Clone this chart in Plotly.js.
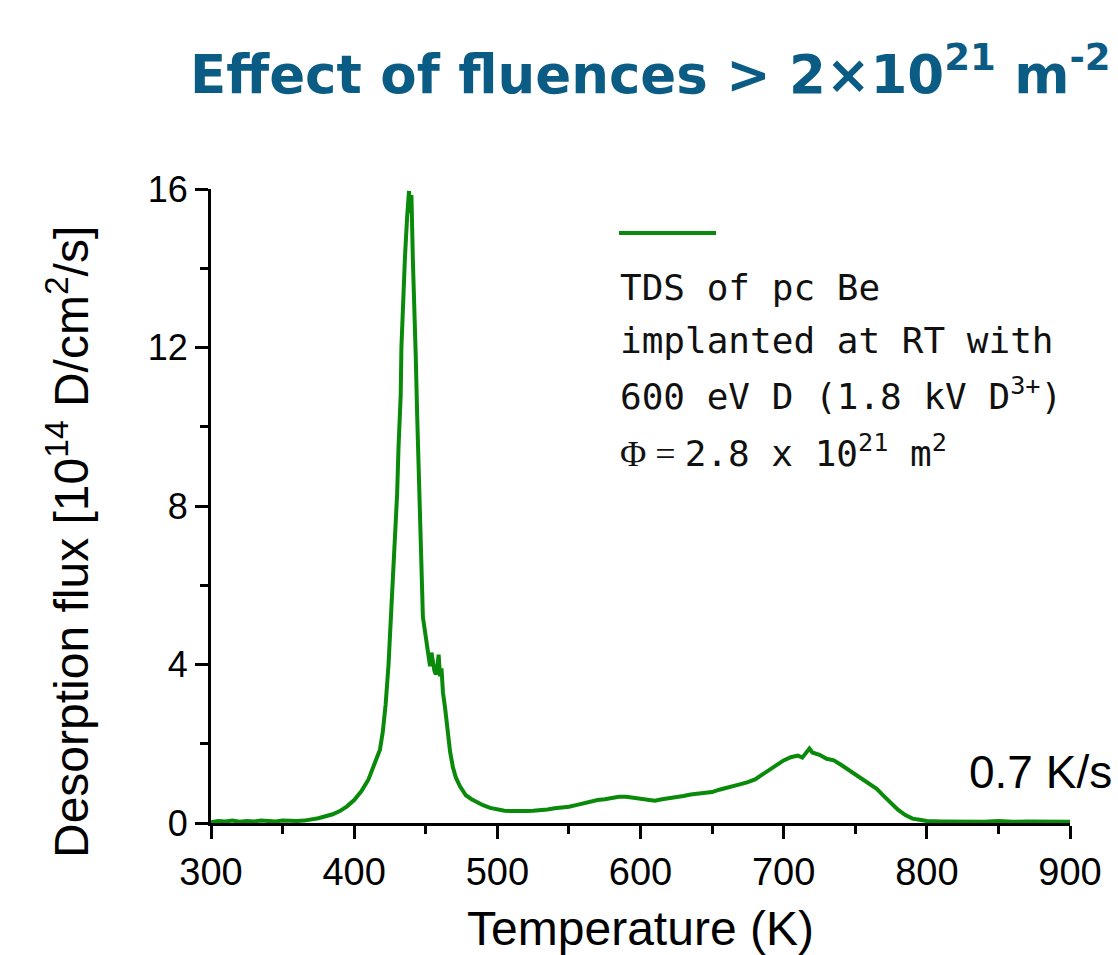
<!DOCTYPE html>
<html>
<head>
<meta charset="utf-8">
<script src="https://cdn.plot.ly/plotly-3.0.1.min.js"></script>
<style>
  html, body { margin: 0; padding: 0; background: #ffffff; }
  #chart { width: 1118px; height: 955px; }
</style>
</head>
<body>
<div id="chart"></div>
<script>
// Temperature (K)
const temperature = [
  300, 305, 310, 315, 320, 325, 330, 335, 340, 345, 350, 355, 360, 365, 370, 375,
  380, 385, 390, 395, 400, 405, 410, 414, 418, 420, 422, 424, 426, 428, 430, 431,
  432.5, 433, 434, 435.5, 437, 438.3, 439, 440, 441, 442, 443, 444, 445, 446, 447,
  448, 450, 452, 453, 454, 455, 456, 457, 458, 459, 460, 461, 462, 463.5, 465, 467,
  469, 471, 474, 478, 482, 486, 490, 495, 500, 505, 510, 515, 520, 525, 530, 535,
  540, 545, 550, 555, 560, 565, 570, 575, 580, 585, 590, 595, 600, 605, 610, 615,
  620, 625, 630, 635, 640, 645, 650, 655, 660, 665, 670, 675, 680, 685, 690, 695,
  700, 705, 710, 713, 716, 718, 720, 725, 730, 735, 740, 745, 750, 755, 760, 765,
  770, 775, 780, 785, 790, 795, 800, 810, 820, 830, 840, 850, 860, 870, 880, 890, 900
];
// Desorption flux (10^14 D/cm^2/s)
const flux = [
  0.02, 0.05, 0.04, 0.06, 0.03, 0.05, 0.04, 0.06, 0.05, 0.04, 0.06, 0.05, 0.05, 0.06, 0.08, 0.12,
  0.17, 0.22, 0.30, 0.42, 0.58, 0.80, 1.10, 1.45, 1.85, 2.30, 3.00, 4.00, 5.40, 7.00, 8.30, 9.50,
  10.8, 12.0, 13.0, 14.3, 15.3, 15.95, 15.4, 15.85, 14.2, 13.2, 11.8, 10.3, 8.9, 7.3, 5.8,
  5.2, 4.7, 4.3, 3.96, 4.3, 4.0, 3.85, 3.75, 3.9, 4.25, 3.7, 3.9, 3.3, 2.9, 2.4, 1.8,
  1.4, 1.15, 0.92, 0.70, 0.60, 0.52, 0.45, 0.38, 0.34, 0.31, 0.30, 0.29, 0.30, 0.31, 0.32, 0.34,
  0.37, 0.38, 0.41, 0.45, 0.50, 0.53, 0.58, 0.60, 0.64, 0.66, 0.66, 0.64, 0.62, 0.58, 0.56, 0.60,
  0.62, 0.64, 0.68, 0.72, 0.74, 0.76, 0.78, 0.84, 0.88, 0.93, 0.98, 1.03, 1.10, 1.22, 1.35, 1.48,
  1.58, 1.66, 1.70, 1.65, 1.80, 1.88, 1.78, 1.72, 1.62, 1.58, 1.47, 1.35, 1.22, 1.12, 1.00, 0.86,
  0.68, 0.50, 0.33, 0.20, 0.11, 0.08, 0.05, 0.04, 0.03, 0.04, 0.03, 0.05, 0.03, 0.04, 0.03, 0.04, 0.03
];

const xTickVals = [300, 400, 500, 600, 700, 800, 900];
const yTickVals = [0, 4, 8, 12, 16];

const infoLines = [
  'TDS of pc Be',
  'implanted at RT with',
  '600 eV D (1.8 kV D<sup>3+</sup>)',
  '<span style="font-family:\'Liberation Serif\'">Φ = </span>2.8 x 10<sup>21</sup> m<sup>2</sup>'
];

const green = '#0a8a0a';
const sans = 'Liberation Sans, Arial, sans-serif';
const mono = 'DejaVu Sans Mono, Liberation Mono, monospace';

const trace = {
  x: temperature,
  y: flux,
  type: 'scatter',
  mode: 'lines',
  line: { color: green, width: 4 },
  showlegend: false,
  hoverinfo: 'skip'
};

// plot area: x 211..1070, y 189..823
const L = 211, R = 1070, T = 189, B = 823;
const px2x = p => (p - L) / (R - L);
const py2y = p => (B - p) / (B - T);

const infoY = [287, 340, 394, 451];
const annotations = infoLines.map((t, i) => ({
  text: t,
  xref: 'paper', yref: 'paper',
  x: px2x(618), y: py2y(infoY[i]),
  xanchor: 'left', yanchor: 'middle',
  showarrow: false,
  font: { family: mono, size: 36, color: '#111111' }
}));

annotations.push({
  text: '0.7 K/s',
  xref: 'paper', yref: 'paper',
  x: px2x(1114), y: py2y(772),
  xanchor: 'right', yanchor: 'middle',
  showarrow: false,
  font: { family: sans, size: 46, color: '#000000' }
});

annotations.push({
  text: 'Desorption flux [10<sup>14</sup> D/cm<sup>2</sup>/s]',
  xref: 'paper', yref: 'paper',
  x: px2x(68), y: py2y(542),
  xanchor: 'center', yanchor: 'middle',
  textangle: -90,
  showarrow: false,
  font: { family: sans, size: 48, color: '#000000' }
});

const layout = {
  width: 1118,
  height: 955,
  paper_bgcolor: '#ffffff',
  plot_bgcolor: '#ffffff',
  margin: { l: L, r: 1118 - R, t: T, b: 955 - B, pad: 0 },
  title: {
    text: '<b>Effect of fluences &gt; 2×10<sup>21</sup> m<sup>-2</sup></b>',
    font: { family: 'DejaVu Sans, Verdana, sans-serif', size: 53, color: '#0b5c84' },
    xref: 'container', yref: 'container',
    x: 190 / 1118, xanchor: 'left',
    y: 1 - 74 / 955, yanchor: 'middle'
  },
  xaxis: {
    range: [300, 900],
    tickvals: xTickVals,
    ticktext: xTickVals.map(String),
    ticks: 'outside', ticklen: 13, tickwidth: 3, tickcolor: '#000000',
    minor: { dtick: 50, tick0: 300, ticks: 'outside', ticklen: 8, tickwidth: 3, tickcolor: '#000000' },
    showline: true, linecolor: '#000000', linewidth: 3,
    showgrid: false, zeroline: false,
    tickfont: { family: sans, size: 38, color: '#000000' },
    title: { text: 'Temperature (K)', font: { family: sans, size: 48, color: '#000000' }, standoff: 28 }
  },
  yaxis: {
    range: [0, 16],
    tickvals: yTickVals,
    ticktext: yTickVals.map(String),
    ticks: 'outside', ticklen: 13, tickwidth: 3, tickcolor: '#000000',
    minor: { dtick: 2, tick0: 0, ticks: 'outside', ticklen: 8, tickwidth: 3, tickcolor: '#000000' },
    showline: true, linecolor: '#000000', linewidth: 3,
    showgrid: false, zeroline: false,
    tickfont: { family: sans, size: 36, color: '#000000' }
  },
  shapes: [{
    type: 'line', xref: 'paper', yref: 'paper',
    x0: px2x(619), x1: px2x(716), y0: py2y(233), y1: py2y(233),
    line: { color: green, width: 4 }
  }],
  annotations: annotations,
  showlegend: false
};

Plotly.newPlot('chart', [trace], layout, { displayModeBar: false, staticPlot: true });
</script>
</body>
</html>
